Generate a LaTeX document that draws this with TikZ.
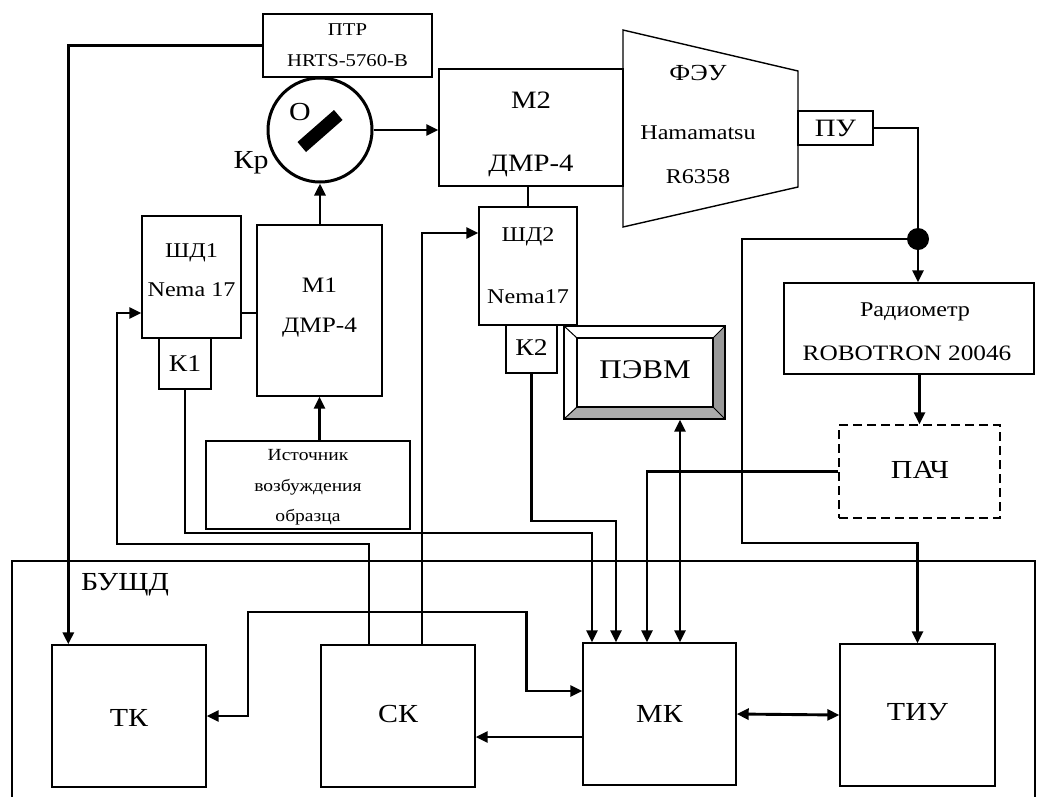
\documentclass[tikz,border=0pt]{standalone}
\usepackage{fontspec}
\setmainfont[FakeStretch=1.15]{Liberation Serif}
\usetikzlibrary{arrows.meta}
\begin{document}
\begin{tikzpicture}[x=1pt,y=-1pt,
  box/.style={draw, line width=1.4pt, inner sep=0pt, rectangle},
  conn/.style={line width=2.9pt},
  arr/.style={conn, -{Triangle[length=12pt,width=11pt]}},
  biarr/.style={conn, {Triangle[length=12pt,width=11pt]}-{Triangle[length=12pt,width=11pt]}},
  fs/.style={inner sep=0pt, font=\fontsize{#1}{#1}\selectfont},
]
\useasboundingbox (0,0) rectangle (1038,796);
\fill[white] (0,0) rectangle (1038,796);

% outer block BUSHD
\draw[line width=1.2pt] (12,800) -- (12,561) -- (1035,561) -- (1035,800);
\node[fs=26] (bushd) at (125,585) {БУЩД};

% top blocks
\node[box, minimum width=169, minimum height=63] (ptr) at (347.5,45.5) {};
\node[fs=18] (ptrA) at (347.5,30) {ПТР};
\node[fs=18] (ptrB) at (347.5,61) {HRTS-5760-B};

\node[draw, circle, line width=3pt, minimum size=104, inner sep=0pt] (kr) at (320,130) {};
\fill (342.5,120) -- (334,110) -- (297.5,142) -- (306,152) -- cycle;
\node[fs=26] (krO) at (300,112) {О};
\node[fs=26] (krL) at (251,163) {Кр};

\node[box, minimum width=184, minimum height=117] (m2) at (531,127.5) {};
\node[fs=25] (m2A) at (531,100) {М2};
\node[fs=25] (m2B) at (531,166) {ДМР-4};

\draw[line width=1.4pt] (623,30) coordinate (feu1) -- (798,71) coordinate (feu2) -- (798,187) coordinate (feu3) -- (623,227) coordinate (feu4) -- cycle;
\node[fs=23] (feuA) at (698,73) {ФЭУ};
\node[fs=21] (feuB) at (698,133) {Hamamatsu};
\node[fs=21] (feuC) at (698,177) {R6358};

\node[box, minimum width=75, minimum height=34] (pu) at (835.5,128) {};
\node[fs=25] (puT) at (835.5,128) {ПУ};

\node[box, minimum width=99, minimum height=122] (shd1) at (191.5,277) {};
\node[fs=21] (shd1A) at (191.5,253) {ШД1};
\node[fs=21] (shd1B) at (191.5,290) {Nema 17};
\node[box, minimum width=52, minimum height=51] (k1) at (185,363.5) {};
\node[fs=24] (k1T) at (185,363.5) {К1};

\node[box, minimum width=125, minimum height=171] (m1) at (319.5,310.5) {};
\node[fs=22] (m1A) at (319.5,285) {М1};
\node[fs=22] (m1B) at (319.5,328) {ДМР-4};

\node[box, minimum width=204, minimum height=88] (ist) at (308,485) {};
\node[fs=17] (istA) at (308,455) {Источник};
\node[fs=17] (istB) at (308,487) {возбуждения};
\node[fs=17] (istC) at (308,517) {образца};

\node[box, minimum width=98, minimum height=118] (shd2) at (528,266) {};
\node[fs=21] (shd2A) at (528,237) {ШД2};
\node[fs=21] (shd2B) at (528,297) {Nema17};
\node[box, minimum width=51, minimum height=48] (k2) at (531.5,349) {};
\node[fs=24] (k2T) at (531.5,348) {К2};

% PEVM bevelled box
\fill[gray!65] (564,419) -- (725,419) -- (713,407) -- (577,407) -- cycle;
\fill[gray!80] (725,326) -- (725,419) -- (713,407) -- (713,338) -- cycle;
\draw[line width=1.2pt] (577,338) rectangle (713,407);
\draw[line width=1.0pt] (564,326) -- (577,338) (725,326) -- (713,338) (564,419) -- (577,407) (725,419) -- (713,407);
\node[box, minimum width=161, minimum height=93] (pevm) at (644.5,372.5) {};
\node[fs=27] (pevmT) at (645,370) {ПЭВМ};

\node[box, minimum width=250, minimum height=91] (rad) at (909,328.5) {};
\node[fs=21] (radA) at (915,312) {Радиометр};
\node[fs=22] (radB) at (907,353) {ROBOTRON 20046};

\node[box, dashed, dash pattern=on 9pt off 5pt, minimum width=161, minimum height=93] (pach) at (919.5,471.5) {};
\node[fs=26] (pachT) at (920,470) {ПАЧ};

\node[circle, fill, minimum size=22, inner sep=0pt] (dot) at (918,239) {};

% bottom blocks
\node[box, minimum width=154, minimum height=142] (tk) at (129,716) {};
\node[fs=26] (tkT) at (129,718) {ТК};
\node[box, minimum width=154, minimum height=142] (sk) at (398,716) {};
\node[fs=26] (skT) at (398,714) {СК};
\node[box, minimum width=153, minimum height=142] (mk) at (659.5,714) {};
\node[fs=26] (mkT) at (659.5,714) {МК};
\node[box, minimum width=155, minimum height=142] (tiu) at (917.5,715) {};
\node[fs=26] (tiuT) at (917.5,712) {ТИУ};

% connectors
\draw[arr] (ptr.west) -| ([xshift=17]tk.north west);
\draw[arr] (kr.east) -- (kr.east -| m2.west);
\draw[arr] (m1.north -| kr.south) -- (kr.south);
\draw[arr] (m1.south |- ist.north) -- (m1.south);
\draw[conn] ([yshift=-36]shd1.east) -- ([yshift=-36]shd1.east -| m1.west);
\draw[conn] (shd2.north) -- (shd2.north |- m2.south);
\draw[conn] (pu.east) -| (dot);
\draw[arr] (dot) -- (dot |- rad.north);
\draw[arr] (pach.north |- rad.south) -- (pach.north);
\coordinate (j1) at (742,543);
\draw[arr] (dot) -| (j1) -| (tiu.north);

\coordinate (j2) at (248,612);
\draw[biarr] (tk.east) -| (j2) -| ([xshift=-56,yshift=23]mk.west) -- ([yshift=23]mk.west);
\draw[arr] ([yshift=-23]mk.west) -- ([yshift=-23]mk.west -| sk.east);
\draw[biarr] (mk.east) -- (tiu.west);

\coordinate (j3) at (117,544);
\draw[arr] ([xshift=-29]sk.north) |- (j3) |- ([yshift=-36]shd1.west);
\draw[arr] ([xshift=24]sk.north) |- ([yshift=33]shd2.west);

\coordinate (j4) at (592,533);
\draw[arr] (k1.south) |- (j4) -- (j4 |- mk.north);
\coordinate (j5) at (616,521);
\draw[arr] (k2.south) |- (j5) -- (j5 |- mk.north);
\draw[arr] (pach.west) -| ([xshift=-12.5]mk.north);
\draw[biarr] (pevm.south -| 680,0) -- (mk.north -| 680,0);
\end{tikzpicture}
\end{document}
